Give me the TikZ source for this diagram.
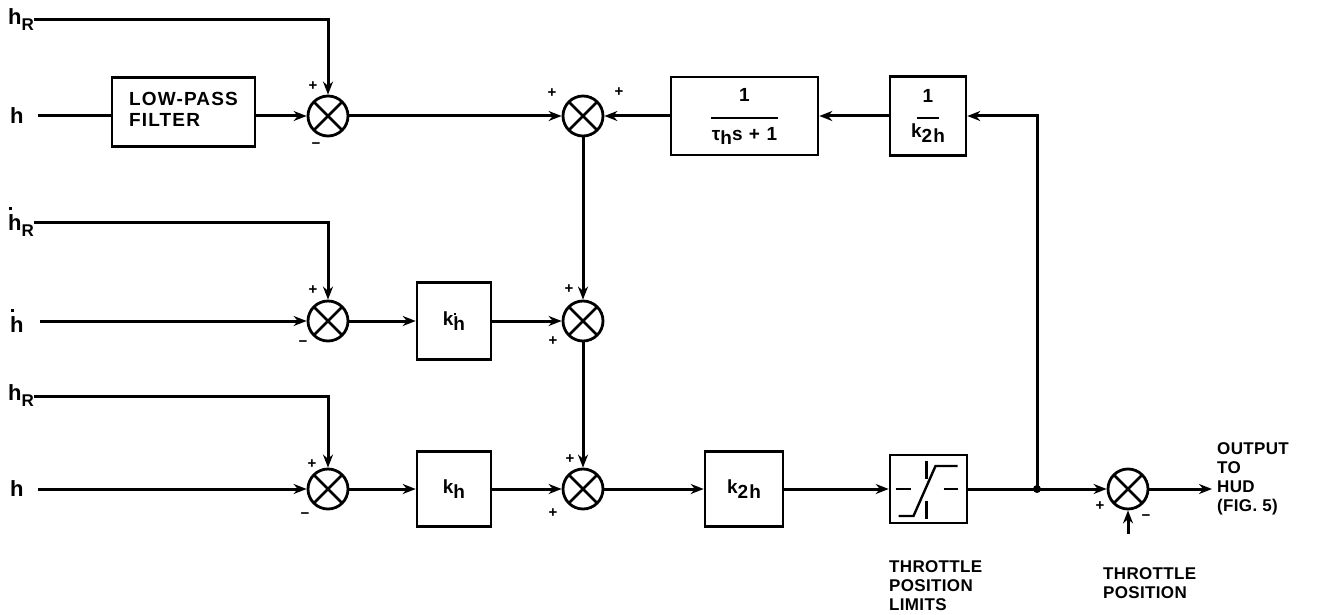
\documentclass[tikz,border=0pt]{standalone}
\usepackage{fontspec}
\setmainfont{Liberation Sans}
\newfontfamily\spaced[LetterSpace=6]{Liberation Sans}
\newfontfamily\slightly[LetterSpace=2]{Liberation Sans}
\usetikzlibrary{arrows.meta}
\newcommand\hsub[2]{#1\raisebox{-6pt}{\fontsize{17}{17}\selectfont #2}}
\newcommand\hdot{\rlap{\hspace{0.6pt}\raisebox{20.5pt}{\rule{3.2pt}{3.2pt}}}h}
\newcommand\sdot{\rlap{\hspace{0.4pt}\raisebox{15pt}{\rule{2.6pt}{2.6pt}}}h}
\begin{document}
\begin{tikzpicture}[x=1pt,y=-1pt,
  wire/.style={line width=3pt},
  arr/.style={wire,-{Stealth[length=13pt,width=10pt]}},
  blk/.style={draw,line width=2.6pt,inner sep=0pt,align=center,font=\spaced\bfseries\fontsize{19}{21}\selectfont},
  sumj/.style={draw,circle,line width=2.8pt,minimum size=40pt,inner sep=0pt,
    path picture={\draw[line width=2.8pt] (path picture bounding box.north west) -- (path picture bounding box.south east)
      (path picture bounding box.north east) -- (path picture bounding box.south west);}},
  inlab/.style={font=\bfseries\fontsize{22}{22}\selectfont,inner sep=0pt,anchor=west},
  lab/.style={font=\slightly\bfseries\fontsize{17}{19}\selectfont,align=left,inner sep=0pt},
  sgn/.style={font=\bfseries\fontsize{15}{15}\selectfont,inner sep=0pt}
]
\useasboundingbox (0,0) rectangle (1328,615);

% input labels
\node[inlab] (hR1) at (8,20) {\hsub{h}{R}};
\node[inlab] (h1) at (10,116) {h};
\node[inlab] (hR2) at (8,222) {\hsub{\hdot}{R}};
\node[inlab] (h2) at (10,321) {\hdot};
\node[inlab] (hR3) at (8,396) {\hsub{h}{R}};
\node[inlab] (h3) at (10,489) {h};

% junctions
\node[sumj] (j1) at (328,116) {};
\node[sumj] (jt) at (583,116) {};
\node[sumj] (j2) at (328,321) {};
\node[sumj] (jm) at (583,321) {};
\node[sumj] (j3) at (328,489) {};
\node[sumj] (jb) at (583,489) {};
\node[sumj] (jo) at (1128,489) {};

% blocks
\node[blk,minimum width=143pt,minimum height=69pt] (lpf) at (183.5,112) {\begin{tabular}{@{}l@{}}LOW-PASS\\FILTER\end{tabular}};
\node[blk,minimum width=147pt,minimum height=78pt] (tau) at (744.5,116) {1\\[-3pt]\rule{67pt}{2pt}\\[0pt]τ\raisebox{-4pt}{h}s + 1};
\node[blk,minimum width=76pt,minimum height=79pt] (ik) at (928,116) {1\\[-5pt]\rule{22pt}{2pt}\\[-2pt]k\raisebox{-5pt}{2h}};
\node[blk,minimum width=74pt,minimum height=77pt] (kd) at (454,321) {k\raisebox{-5pt}{\sdot}};
\node[blk,minimum width=74pt,minimum height=75pt] (kh) at (454,489) {k\raisebox{-5pt}{h}};
\node[blk,minimum width=78pt,minimum height=75pt] (k2) at (744,489) {k\raisebox{-5pt}{2h}};
\node[blk,minimum width=77pt,minimum height=68pt] (lim) at (928.5,489) {};

% limiter symbol
\begin{scope}[shift={(lim.center)},line width=2.4pt]
  \draw (-33,0) -- (-18,0) (15,0) -- (29,0);
  \draw (-2,-28) -- (-2,-10) (-2,12) -- (-2,30);
  \draw (-30,27) -- (-15,27) -- (7,-23) -- (29,-23);
\end{scope}

% coordinates
\coordinate (br) at (1037,489);
\coordinate (out) at (1212,489);
\coordinate (tp) at (1128,534);

% row 1
\draw[arr] (hR1.east) -| (j1.north);
\draw[wire] ([xshift=14pt]h1.east) -- (h1.east -| lpf.west);
\draw[arr] (lpf.east |- j1) -- (j1.west);
\draw[arr] (j1.east) -- (jt.west);
% row 2
\draw[arr] (hR2.east) -| (j2.north);
\draw[arr] ([xshift=16pt]h2.east) -- (j2.west);
\draw[arr] (j2.east) -- (kd.west);
\draw[arr] (kd.east) -- (jm.west);
% row 3
\draw[arr] (hR3.east) -| (j3.north);
\draw[arr] ([xshift=14pt]h3.east) -- (j3.west);
\draw[arr] (j3.east) -- (kh.west);
\draw[arr] (kh.east) -- (jb.west);
\draw[arr] (jb.east) -- (k2.west);
\draw[arr] (k2.east) -- (lim.west);
\draw[wire] (lim.east) -- (br);
\draw[arr] (br) -- (jo.west);
\draw[arr] (jo.east) -- (out);
\draw[arr] (tp) -- (jo.south);
% verticals
\draw[arr] (jt.south) -- (jm.north);
\draw[arr] (jm.south) -- (jb.north);
% feedback
\draw[arr] (br) |- (ik.east);
\draw[arr] (ik.west) -- (tau.east);
\draw[arr] (tau.west) -- (jt.east);
\fill (br) circle (4pt);

% signs
\node[sgn] at (313,86) {+};
\node[sgn] at (316,146) {−};
\node[sgn] at (552,93) {+};
\node[sgn] at (619,92) {+};
\node[sgn] at (313,290) {+};
\node[sgn] at (303,344) {−};
\node[sgn] at (569,289) {+};
\node[sgn] at (553,341) {+};
\node[sgn] at (312,464) {+};
\node[sgn] at (305,516) {−};
\node[sgn] at (570,459) {+};
\node[sgn] at (553,513) {+};
\node[sgn] at (1100,506) {+};
\node[sgn] at (1146,518) {−};

% text labels
\node[lab,anchor=north west] (tpl) at (889,560) {THROTTLE\\POSITION\\LIMITS};
\node[lab,anchor=north west] (tpos) at (1103,567) {THROTTLE\\POSITION};
\node[lab,anchor=west] (outl) at (1217,479) {OUTPUT\\TO\\HUD\\(FIG. 5)};
\end{tikzpicture}
\end{document}
